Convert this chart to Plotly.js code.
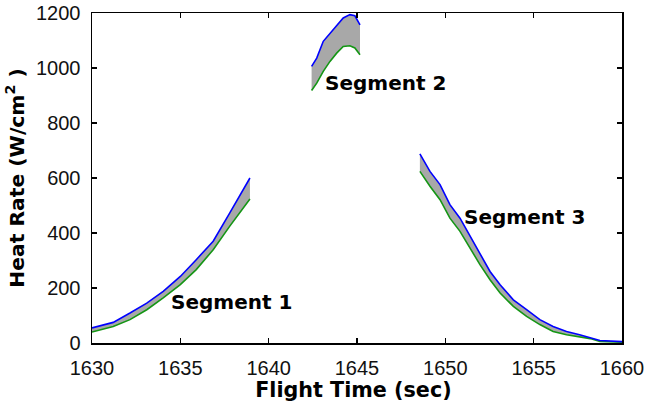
<!DOCTYPE html>
<html>
<head>
<meta charset="utf-8">
<script src="https://cdn.plot.ly/plotly-3.0.1.min.js"></script>
<style>html,body{margin:0;padding:0;background:#fff;}</style>
</head>
<body>
<div id="chart" style="width:646px;height:408px;"></div>
<script>
// Segment 1
var seg1Time  = [1630, 1631.2, 1632.15, 1633.1, 1634.03, 1635, 1635.9, 1636.86, 1637.8, 1638.94];
var seg1Upper = [55, 75, 109, 145, 188, 242, 303, 370, 473, 600];
var seg1Lower = [40, 60, 85, 121, 164, 212, 267, 339, 425, 524];
// Segment 2
var seg2Time  = [1642.43, 1642.72, 1643.09, 1643.47, 1643.85, 1644.22, 1644.6, 1644.88, 1645.17];
var seg2Upper = [1006, 1036, 1097, 1127, 1157, 1182, 1194, 1190, 1157];
var seg2Lower = [918, 945, 988, 1024, 1054, 1078, 1081, 1073, 1048];
// Segment 3
var seg3Time  = [1648.56, 1649.13, 1649.7, 1650.26, 1650.83, 1651.4, 1651.96, 1652.53, 1653.1, 1653.85, 1654.6, 1655.35, 1656.1, 1656.86, 1657.6, 1658.2, 1658.75, 1660];
var seg3Upper = [688, 624, 576, 503, 454, 388, 321, 260, 212, 157, 121, 85, 60, 42, 30, 20, 9, 5];
var seg3Lower = [624, 570, 521, 454, 406, 345, 285, 230, 182, 133, 97, 67, 42, 30, 22, 16, 6, 3];

var segLabels = ["Segment 1", "Segment 2", "Segment 3"];
var labelX = [1634.33, 1643.08, 1650.95];
var labelY = [150, 946, 460];

var upperColor = "rgb(0,0,255)";
var lowerColor = "rgb(20,150,20)";
var fillColor = "rgb(168,168,168)";

var segments = [
  [seg1Time, seg1Upper, seg1Lower],
  [seg2Time, seg2Upper, seg2Lower],
  [seg3Time, seg3Upper, seg3Lower]
];

var traces = [];
segments.forEach(function (s) {
  traces.push({x: s[0], y: s[2], type: "scatter", mode: "lines",
    line: {color: lowerColor, width: 1.6}, showlegend: false, hoverinfo: "skip"});
  traces.push({x: s[0], y: s[1], type: "scatter", mode: "lines", fill: "tonexty",
    fillcolor: fillColor, line: {color: upperColor, width: 1.6}, showlegend: false, hoverinfo: "skip"});
});

var annotations = segLabels.map(function (t, i) {
  return {x: labelX[i], y: labelY[i], xref: "x", yref: "y", text: t, showarrow: false,
    xanchor: "left", yanchor: "middle",
    font: {family: "DejaVu Sans, sans-serif", size: 20, color: "#000", weight: "bold"}};
});

var tickFont = {family: "Liberation Sans, Arial, sans-serif", size: 20, color: "#111"};
var xTitleFont = {family: "DejaVu Sans, sans-serif", size: 20.7, color: "#000", weight: "bold"};
var yTitleFont = {family: "DejaVu Sans, sans-serif", size: 20.3, color: "#000", weight: "bold"};

var layout = {
  width: 646, height: 408,
  margin: {l: 92, r: 24, t: 13, b: 65, pad: 0},
  paper_bgcolor: "#fff", plot_bgcolor: "#fff",
  xaxis: {
    range: [1630, 1660], tickvals: [1630, 1635, 1640, 1645, 1650, 1655, 1660],
    ticks: "inside", ticklen: 5, tickwidth: 1.5, tickcolor: "#000",
    showline: true, linecolor: "#000", linewidth: 1.5, mirror: "ticks",
    showgrid: false, zeroline: false, tickfont: tickFont, ticklabelstandoff: 6,
    title: {text: "Flight Time (sec)&nbsp;", font: xTitleFont, standoff: 4}
  },
  yaxis: {
    range: [0, 1200], tickvals: [0, 200, 400, 600, 800, 1000, 1200],
    ticks: "inside", ticklen: 5, tickwidth: 1.5, tickcolor: "#000",
    showline: true, linecolor: "#000", linewidth: 1.5, mirror: "ticks",
    showgrid: false, zeroline: false, tickfont: tickFont, ticklabelstandoff: 6,
    title: {text: "Heat Rate (W/cm<sup>2</sup> )", font: yTitleFont, standoff: 6}
  },
  annotations: annotations
};

Plotly.newPlot("chart", traces, layout, {staticPlot: true, displayModeBar: false});
</script>
</body>
</html>
